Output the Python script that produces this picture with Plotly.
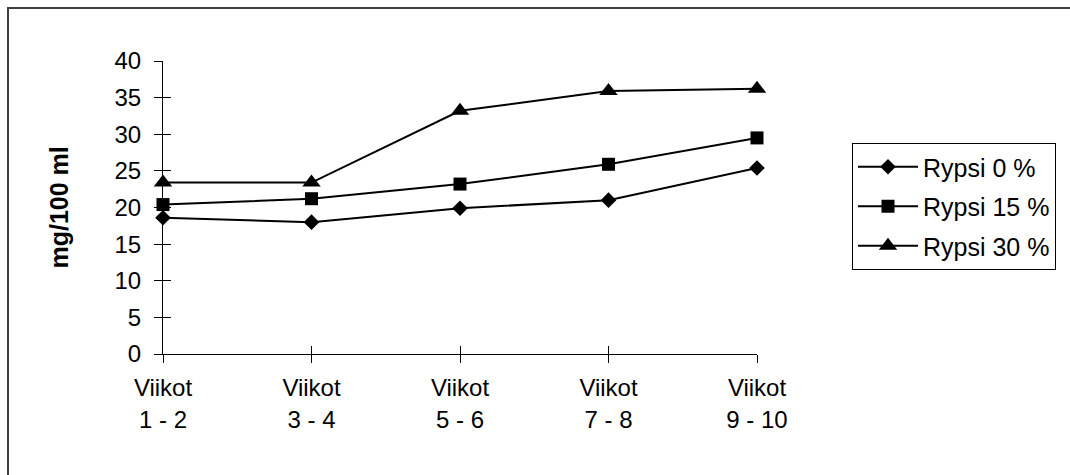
import plotly.graph_objects as go

# Sampling periods (weeks) and measured values, mg/100 ml
periods = ["1 - 2", "3 - 4", "5 - 6", "7 - 8", "9 - 10"]
period_word = "Viikot"
rypsi_0 = [18.6, 18.0, 19.9, 21.0, 25.4]
rypsi_15 = [20.4, 21.2, 23.2, 25.9, 29.5]
rypsi_30 = [23.4, 23.4, 33.2, 35.9, 36.2]
series_names = ["Rypsi 0 %", "Rypsi 15 %", "Rypsi 30 %"]
y_ticks = [0, 5, 10, 15, 20, 25, 30, 35, 40]

W, H = 1070, 475
L, R, T, B = 163, 313, 61, 121
FONT = "Liberation Sans, Arial, sans-serif"
FS = 24

xpos = list(range(len(periods)))

fig = go.Figure()
for name, vals, sym, size in [
    (series_names[0], rypsi_0, "diamond", 12),
    (series_names[1], rypsi_15, "square", 13),
    (series_names[2], rypsi_30, "triangle-up", 16),
]:
    fig.add_trace(go.Scatter(
        x=xpos, y=vals, name=name, mode="lines+markers",
        legendgroup=name,
        line=dict(color="black", width=2),
        marker=dict(symbol=sym, size=size, color="black",
                    line=dict(width=0)),
        cliponaxis=False,
    ))

fig.update_layout(
    width=W, height=H,
    margin=dict(l=L, r=R, t=T, b=B, pad=0),
    paper_bgcolor="white", plot_bgcolor="white",
    font=dict(family=FONT, size=FS, color="black"),
    showlegend=True,
    legend=dict(
        x=(852 - L) / (W - L - R), y=(H - B - 143) / (H - T - B),
        xanchor="left", yanchor="top",
        bordercolor="black", borderwidth=1,
        font=dict(size=25, family=FONT),
        itemwidth=60, tracegroupgap=4,
        bgcolor="white",
    ),
    xaxis=dict(
        range=[0, len(periods) - 1],
        tickvals=xpos, ticktext=[period_word] * len(periods),
        ticks="outside", ticklen=8, tickcolor="black", tickwidth=1,
        showline=True, linecolor="black", linewidth=1,
        showgrid=False, zeroline=False,
        ticklabelstandoff=4,
        tickfont=dict(size=FS),
    ),
    xaxis2=dict(
        overlaying="x", matches="x", anchor="y", side="bottom",
        range=[0, len(periods) - 1],
        tickvals=xpos, ticktext=periods,
        ticks="inside", ticklen=8, tickcolor="black", tickwidth=1,
        showline=False, showgrid=False, zeroline=False,
        ticklabelstandoff=49,
        tickfont=dict(size=FS),
    ),
    yaxis=dict(
        range=[0, 40], tickvals=y_ticks,
        ticks="outside", ticklen=8, tickcolor="black", tickwidth=1,
        showline=True, linecolor="black", linewidth=1,
        showgrid=False, zeroline=False,
        ticklabelstandoff=8,
        tickfont=dict(size=FS),
    ),
    yaxis2=dict(
        overlaying="y", matches="y", anchor="x", side="left",
        range=[0, 40], tickvals=y_ticks,
        ticks="inside", ticklen=8, tickcolor="black", tickwidth=1,
        showticklabels=False,
        showline=False, showgrid=False, zeroline=False,
    ),
)

# invisible carrier so the overlaid tick axes are drawn
fig.add_trace(go.Scatter(x=[None], y=[None], xaxis="x2", yaxis="y2",
                         showlegend=False, hoverinfo="skip"))

pw, ph = W - L - R, H - T - B
# y-axis title
fig.add_annotation(
    text="<b>mg/100 ml</b>", textangle=-90,
    xref="paper", yref="paper",
    x=(58 - L) / pw, y=0.5, xanchor="center", yanchor="middle",
    showarrow=False, font=dict(size=25, family=FONT),
)

# chart frame
fig.add_shape(
    type="rect", xref="paper", yref="paper",
    x0=(8 - L) / pw, x1=(W + 20 - L) / pw,
    y0=-(B + 20) / ph, y1=(H - B - 8) / ph,
    line=dict(color="#404040", width=2), layer="below",
)

fig.write_html("out.html")
